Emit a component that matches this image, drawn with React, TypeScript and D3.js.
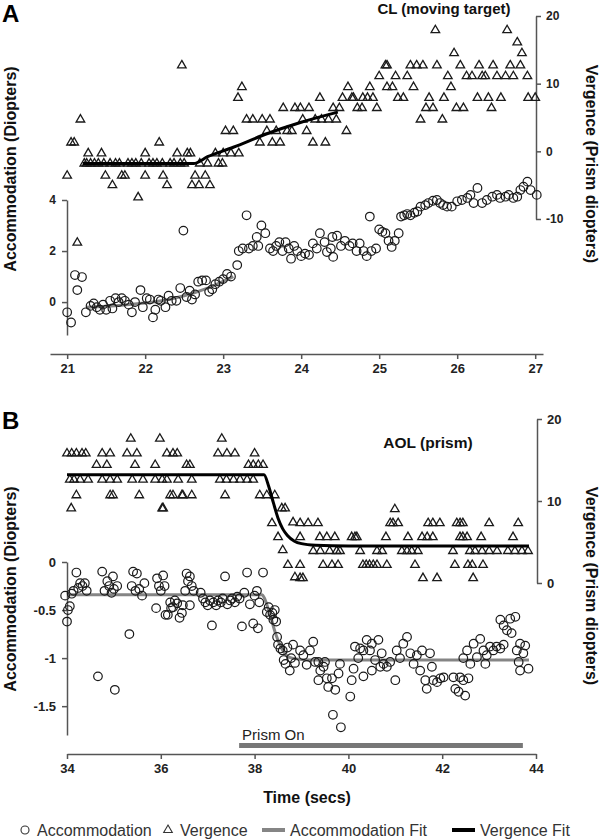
import React, { useRef, useEffect } from "react";
import * as d3 from "d3";

// ---- panel A: CL (moving target) ----
const clTimeTicks = [21, 22, 23, 24, 25, 26, 27];
const clAccomTicks = [0, 2, 4];
const clVergTicks = [-10, 0, 10, 20];

// [time (s), vergence (prism diopters)]
const clVergence: [number, number][] = [
  [21.0, -3.6], [21.05, 1.3], [21.09, 1.3], [21.13, -13.5], [21.17, 4.7],
  [21.22, -1.8], [21.25, -1.8], [21.27, -0.3], [21.3, -1.8], [21.35, -1.8], [21.4, -1.8],
  [21.44, -0.3], [21.47, -1.8], [21.49, -3.6], [21.55, -1.8], [21.58, -5.0], [21.62, -1.8],
  [21.67, -1.8], [21.7, -3.6], [21.74, -3.6], [21.78, -1.8], [21.83, -1.8], [21.88, -1.8],
  [21.91, -6.8], [21.95, -1.8], [22.0, -0.3], [22.0, -3.6], [22.05, -1.8], [22.1, -1.8],
  [22.15, -1.8], [22.18, 1.3], [22.22, -1.8], [22.23, -3.6], [22.28, -5.0], [22.32, -1.8],
  [22.37, -1.8], [22.41, -0.3], [22.45, -1.8], [22.47, 12.7], [22.5, -1.8], [22.54, -0.3],
  [22.58, -0.3], [22.6, -5.0], [22.64, -3.6], [22.69, -5.0], [22.7, -1.8], [22.77, -3.6],
  [22.8, -1.8], [22.83, -5.0], [22.9, -0.3], [22.94, -1.8], [22.99, -1.8], [23.0, -0.3],
  [23.03, 3.0], [23.1, -0.3], [23.13, 3.0], [23.19, 7.9], [23.2, -0.3], [23.24, 9.5],
  [23.3, 4.7], [23.38, 4.7], [23.47, 1.3], [23.5, 4.7], [23.56, 3.0], [23.6, 4.7],
  [23.63, 1.3], [23.68, 3.0], [23.73, 1.3], [23.77, 6.4], [23.82, 3.0], [23.88, 3.0],
  [23.92, 6.4], [23.99, 6.4], [24.02, 4.7], [24.07, 3.0], [24.1, 6.4], [24.15, 1.3],
  [24.18, 4.7], [24.24, 7.9], [24.26, 4.7], [24.31, 1.3], [24.35, 4.7], [24.41, 6.4],
  [24.45, 4.7], [24.49, 6.4], [24.53, 7.9], [24.58, 3.0], [24.6, 9.5], [24.65, 7.9],
  [24.67, 7.9], [24.72, 6.4], [24.78, 6.4], [24.79, 7.9], [24.85, 7.9], [24.88, 9.5],
  [24.92, 7.9], [24.97, 6.4], [25.0, 11.1], [25.08, 12.7], [25.1, 12.7], [25.1, 9.5],
  [25.17, 9.5], [25.21, 11.1], [25.24, 7.9], [25.31, 7.9], [25.36, 11.1], [25.4, 12.7],
  [25.44, 9.5], [25.48, 12.7], [25.53, 4.7], [25.56, 12.7], [25.6, 6.4], [25.64, 7.9],
  [25.69, 6.4], [25.72, 17.9], [25.74, 12.7], [25.81, 4.7], [25.83, 7.9], [25.88, 11.1],
  [25.92, 9.5], [25.96, 14.5], [25.99, 6.4], [26.04, 12.7], [26.08, 6.4], [26.12, 11.1],
  [26.19, 11.1], [26.26, 7.9], [26.28, 12.7], [26.32, 11.1], [26.36, 11.1], [26.4, 7.9],
  [26.44, 6.4], [26.46, 12.7], [26.51, 11.1], [26.56, 7.9], [26.62, 11.1], [26.64, 17.9],
  [26.68, 12.7], [26.72, 11.1], [26.77, 16.1], [26.81, 12.7], [26.83, 14.5], [26.9, 11.1],
  [26.91, 7.9], [27.0, 7.9],
];

// [time (s), accommodation (D)]
const clAccom: [number, number][] = [
  [21.0, -0.4], [21.05, -0.8], [21.1, 1.06], [21.13, 0.47], [21.19, 0.98], [21.24, -0.4],
  [21.3, -0.15], [21.34, -0.05], [21.38, -0.2], [21.42, -0.3], [21.46, -0.1], [21.5, -0.3],
  [21.55, 0.05], [21.58, -0.25], [21.62, 0.15], [21.66, 0.0], [21.7, 0.15], [21.74, 0.05],
  [21.79, -0.1], [21.83, -0.4], [21.87, 0.0], [21.94, 0.47], [21.97, -0.2], [22.02, 0.15],
  [22.06, 0.1], [22.1, -0.6], [22.13, -0.3], [22.17, 0.1], [22.2, 0.05], [22.26, -0.2],
  [22.3, 0.25], [22.34, 0.05], [22.4, 0.05], [22.45, 0.55], [22.49, 2.8], [22.53, 0.2],
  [22.57, 0.45], [22.6, 0.1], [22.64, 0.3], [22.68, 0.8], [22.73, 0.85], [22.78, 0.85],
  [22.82, 0.4], [22.86, 0.5], [22.9, 0.7], [22.95, 0.8], [23.0, 0.9], [23.05, 1.1],
  [23.1, 1.0], [23.18, 1.45], [23.2, 2.0], [23.25, 2.1], [23.3, 3.4], [23.33, 2.1],
  [23.38, 2.2], [23.43, 2.55], [23.45, 2.2], [23.49, 3.0], [23.54, 2.7], [23.6, 2.1],
  [23.64, 2.0], [23.68, 2.2], [23.72, 2.35], [23.76, 2.0], [23.8, 2.35], [23.84, 2.1],
  [23.87, 1.7], [23.91, 2.2], [23.95, 2.0], [24.0, 1.8], [24.05, 1.9], [24.1, 1.85],
  [24.15, 2.3], [24.2, 2.1], [24.24, 2.7], [24.3, 2.35], [24.33, 1.96], [24.38, 2.1],
  [24.41, 1.77], [24.4, 2.55], [24.46, 2.6], [24.51, 2.2], [24.56, 2.4], [24.62, 2.2],
  [24.66, 2.3], [24.71, 2.0], [24.75, 2.3], [24.8, 2.0], [24.84, 1.8], [24.88, 3.35],
  [24.9, 2.0], [24.96, 2.1], [25.0, 2.85], [25.04, 2.75], [25.08, 2.7], [25.12, 2.4],
  [25.16, 2.16], [25.2, 2.4], [25.25, 2.7], [25.28, 3.35], [25.32, 3.4], [25.36, 3.45],
  [25.4, 3.4], [25.45, 3.5], [25.49, 3.55], [25.53, 3.74], [25.59, 3.8], [25.63, 3.88],
  [25.69, 3.97], [25.74, 4.0], [25.78, 3.88], [25.82, 3.8], [25.87, 3.74], [25.93, 3.74],
  [26.0, 3.95], [26.06, 4.0], [26.13, 4.08], [26.17, 4.2], [26.21, 3.88], [26.26, 4.47],
  [26.32, 3.88], [26.38, 4.0], [26.45, 4.13], [26.51, 4.2], [26.55, 4.08], [26.62, 4.13],
  [26.66, 4.2], [26.72, 4.08], [26.77, 4.13], [26.81, 4.39], [26.85, 4.52], [26.9, 4.72],
  [26.94, 4.39], [27.02, 4.2],
];

const clVergFit: [number, number][] = [
  [21.2, -1.8], [22.62, -1.8], [22.8, -0.8], [23.13, 0.6], [23.56, 2.6], [24.0, 4.3], [24.47, 5.8],
];
const clAccomFit: [number, number][] = [
  [21.25, -0.2], [21.7, -0.12], [22.1, 0.0], [22.5, 0.25], [22.8, 0.55], [23.13, 1.0],
];

// ---- panel B: AOL (prism) ----
const aolTimeTicks = [34, 36, 38, 40, 42, 44];
const aolAccomTicks = [0, -0.5, -1, -1.5];
const aolVergTicks = [0, 10, 20];

const aolVergence: [number, number][] = [
  [34.0, 15.8], [34.06, 12.6], [34.09, 9.1], [34.1, 15.8], [34.15, 12.6], [34.2, 15.8],
  [34.2, 10.7], [34.28, 12.6], [34.32, 15.8], [34.4, 15.8], [34.45, 12.6], [34.63, 14.4],
  [34.75, 15.8], [34.75, 12.6], [34.85, 14.4], [34.92, 15.8], [34.92, 12.6], [34.92, 10.7],
  [34.98, 10.7], [35.07, 12.6], [35.28, 15.8], [35.36, 17.6], [35.39, 12.6], [35.45, 14.4],
  [35.49, 15.8], [35.54, 10.7], [35.62, 12.6], [35.88, 14.4], [35.88, 12.6], [35.98, 17.6],
  [36.03, 12.6], [36.03, 9.1], [36.05, 9.1], [36.13, 15.8], [36.13, 12.6], [36.2, 10.7],
  [36.26, 15.8], [36.26, 10.7], [36.35, 15.8], [36.37, 12.6], [36.45, 10.7], [36.47, 10.7],
  [36.55, 14.4], [36.62, 14.4], [36.66, 12.6], [36.66, 10.7], [37.22, 15.8], [37.26, 12.6],
  [37.3, 17.6], [37.37, 10.7], [37.4, 12.6], [37.41, 15.8], [37.55, 12.6], [37.58, 15.8],
  [37.69, 12.6], [37.84, 12.6], [37.87, 14.4], [37.97, 14.4], [37.97, 12.6], [38.0, 15.8],
  [38.08, 14.4], [38.11, 10.7], [38.18, 14.4], [38.26, 10.7], [38.37, 7.3], [38.43, 10.7],
  [38.5, 5.6], [38.58, 9.1], [38.6, 4.0], [38.65, 9.1], [38.71, 2.2], [38.82, 7.4],
  [38.86, 0.7], [38.97, 7.3], [38.97, 5.6], [38.97, 2.2], [38.97, 0.6], [39.03, 0.6],
  [39.14, 7.3], [39.25, 3.9], [39.35, 7.3], [39.39, 5.6], [39.4, 3.9], [39.46, 2.2],
  [39.54, 5.6], [39.6, 3.9], [39.65, 2.2], [39.71, 5.6], [39.75, 3.9], [39.78, 2.2],
  [39.82, 3.9], [40.07, 5.6], [40.14, 5.6], [40.18, 5.6], [40.25, 3.9], [40.31, 2.2],
  [40.38, 2.2], [40.45, 2.2], [40.53, 2.2], [40.61, 2.2], [40.61, 3.9], [40.72, 3.9],
  [40.8, 5.6], [40.82, 2.2], [40.89, 7.3], [40.95, 7.3], [40.99, 9.0], [41.06, 7.3],
  [41.14, 3.9], [41.25, 3.9], [41.27, 5.6], [41.35, 3.9], [41.42, 2.2], [41.48, 3.9],
  [41.57, 5.6], [41.59, 0.6], [41.68, 5.6], [41.7, 7.3], [41.8, 7.3], [41.8, 5.6],
  [41.89, 0.6], [41.95, 7.3], [42.23, 3.9], [42.27, 2.2], [42.31, 7.3], [42.38, 7.3],
  [42.38, 5.6], [42.44, 7.3], [42.44, 5.6], [42.53, 5.6], [42.55, 2.2], [42.59, 3.9],
  [42.64, 2.2], [42.66, 0.6], [42.7, 3.9], [42.83, 5.6], [42.85, 3.9], [42.87, 2.2],
  [43.0, 7.3], [43.0, 3.9], [43.17, 3.9], [43.4, 3.9], [43.51, 5.6], [43.55, 3.9],
  [43.62, 7.3], [43.7, 3.9], [43.83, 3.9],
];

const aolAccom: [number, number][] = [
  [33.96, -0.35], [34.0, -0.62], [34.02, -0.5], [34.06, -0.46], [34.1, -0.33], [34.14, -0.3],
  [34.2, -0.11], [34.24, -0.27], [34.28, -0.22], [34.33, -0.25], [34.38, -0.22], [34.42, -0.3],
  [34.66, -1.19], [34.75, -0.1], [34.8, -0.3], [34.86, -0.2], [34.9, -0.25], [34.95, -0.32],
  [34.98, -0.15], [35.0, -0.28], [35.02, -1.33], [35.07, -0.25], [35.33, -0.75], [35.38, -0.25],
  [35.41, -0.1], [35.46, -0.3], [35.49, -0.12], [35.54, -0.28], [35.6, -0.35], [35.65, -0.22],
  [35.9, -0.48], [35.92, -0.17], [35.96, -0.25], [36.0, -0.3], [36.05, -0.14], [36.08, -0.25],
  [36.1, -0.55], [36.15, -0.55], [36.2, -0.42], [36.22, -0.48], [36.26, -0.47], [36.3, -0.4],
  [36.35, -0.43], [36.4, -0.58], [36.45, -0.53], [36.47, -0.45], [36.52, -0.3], [36.55, -0.12],
  [36.58, -0.2], [36.62, -0.15], [36.62, -0.45], [36.66, -0.25], [36.7, -0.3], [36.85, -0.32],
  [36.9, -0.38], [36.95, -0.42], [37.0, -0.45], [37.05, -0.4], [37.09, -0.66], [37.12, -0.42],
  [37.18, -0.45], [37.22, -0.4], [37.28, -0.42], [37.32, -0.38], [37.37, -0.15], [37.42, -0.44],
  [37.48, -0.4], [37.52, -0.38], [37.58, -0.42], [37.63, -0.36], [37.68, -0.38], [37.73, -0.67],
  [37.78, -0.32], [37.84, -0.11], [37.9, -0.44], [37.97, -0.64], [38.0, -0.35], [38.05, -0.3],
  [38.07, -0.69], [38.1, -0.42], [38.18, -0.11], [38.26, -0.52], [38.3, -0.47], [38.33, -0.55],
  [38.38, -0.53], [38.4, -0.6], [38.43, -0.5], [38.46, -0.62], [38.48, -0.78], [38.5, -0.86],
  [38.55, -0.9], [38.6, -0.92], [38.62, -1.02], [38.66, -1.06], [38.7, -0.89], [38.75, -1.13],
  [38.78, -1.0], [38.82, -0.86], [38.86, -1.05],
  [38.97, -0.92], [39.04, -0.97], [39.11, -1.07], [39.18, -0.92], [39.25, -0.83], [39.29, -1.04],
  [39.36, -1.04], [39.4, -1.13], [39.47, -1.09], [39.5, -1.04], [39.54, -1.21], [39.36, -1.23],
  [39.57, -1.3], [39.65, -1.21], [39.72, -1.33], [39.79, -1.16], [39.82, -1.06], [39.67, -1.59],
  [39.84, -1.72], [40.04, -1.4], [40.07, -1.23], [40.11, -1.11], [40.14, -0.88], [40.21, -1.0],
  [40.25, -0.9], [40.32, -0.92], [40.39, -0.81], [40.46, -0.92], [40.5, -0.85], [40.32, -1.19],
  [40.5, -1.13], [40.57, -1.02], [40.64, -0.81], [40.68, -1.09], [40.71, -0.95], [40.75, -1.06],
  [40.82, -1.09], [40.89, -1.04], [41.0, -1.23], [41.03, -0.92], [41.1, -1.0], [41.17, -0.85],
  [41.25, -0.78], [41.32, -0.95], [41.39, -1.06], [41.46, -0.97], [41.53, -1.13], [41.57, -0.92],
  [41.64, -1.23], [41.67, -1.32], [41.74, -0.95], [41.78, -1.09], [41.81, -1.23], [41.89, -1.25],
  [41.96, -1.21], [42.03, -1.2], [42.24, -1.2], [42.28, -1.32], [42.35, -1.35], [42.38, -1.2],
  [42.45, -1.23], [42.49, -1.39], [42.56, -1.21], [42.45, -1.0], [42.53, -0.92], [42.6, -1.06],
  [42.67, -0.85], [42.74, -0.99], [42.81, -0.8], [42.88, -0.92], [42.92, -1.06], [42.95, -0.97],
  [43.02, -0.88], [43.09, -0.92], [43.16, -0.88], [43.24, -0.9], [43.31, -0.86], [43.24, -0.6],
  [43.31, -0.66], [43.38, -0.71], [43.48, -0.74], [43.56, -0.57], [43.45, -0.59], [43.59, -0.92],
  [43.66, -0.85], [43.73, -0.95], [43.77, -0.87], [43.63, -1.04], [43.66, -1.13], [43.84, -1.11],
];

const aolVergFit: [number, number][] = [
  [34.0, 13.2], [38.2, 13.2], [38.3, 11.8], [38.4, 9.8], [38.5, 7.9], [38.6, 6.6],
  [38.7, 5.8], [38.85, 5.1], [39.0, 4.8], [39.3, 4.6], [40.0, 4.5], [43.85, 4.5],
];
const aolAccomFit: [number, number][] = [
  [34.0, -0.34], [38.15, -0.34], [38.3, -0.5], [38.45, -0.75], [38.6, -0.92], [38.8, -1.0],
  [39.2, -1.02], [43.85, -1.02],
];
const prismOn = [37.67, 43.72];

const legendLabels = ["Accommodation", "Vergence", "Accommodation Fit", "Vergence Fit"];

const FONT = "Arial, 'Liberation Sans', Helvetica, sans-serif";

export default function App() {
  const svgRef = useRef<SVGSVGElement>(null);

  useEffect(() => {
    const svg = d3.select(svgRef.current);
    svg.selectAll("*").remove();
    svg.append("rect").attr("width", 600).attr("height", 840).attr("fill", "#fff");

    const tri = d3.symbol().type(d3.symbolTriangle).size(32);

    function drawPanel(p: any) {
      const g = svg.append("g");

      // axes
      const styleAxis = (sel: any, fs: number) => {
        sel.selectAll(".domain").attr("stroke", "#555").attr("stroke-width", 1.5);
        sel.selectAll(".tick line").attr("stroke", "#555").attr("stroke-width", 1.5);
        sel.selectAll("text")
          .attr("fill", "#222")
          .attr("font-size", fs)
          .attr("font-weight", "bold")
          .attr("font-family", FONT);
      };

      g.append("g")
        .attr("transform", `translate(0,${p.xAxisY})`)
        .call(d3.axisBottom(p.x).tickValues(p.xTicks).tickSize(5).tickSizeOuter(0).tickPadding(5).tickFormat((d: any) => String(d)))
        .call((s: any) => styleAxis(s, p.xFont));

      g.append("g")
        .attr("transform", `translate(${p.leftX},0)`)
        .call(d3.axisLeft(p.yA).tickValues(p.aTicks).tickSize(5).tickSizeOuter(0).tickPadding(6).tickFormat((d: any) => String(d)))
        .call((s: any) => styleAxis(s, p.yFont));

      g.append("g")
        .attr("transform", `translate(${p.rightX},0)`)
        .call(d3.axisRight(p.yV).tickValues(p.vTicks).tickSize(5).tickSizeOuter(0).tickPadding(5).tickFormat((d: any) => String(d)))
        .call((s: any) => styleAxis(s, p.yFont));

      const line = d3
        .line<[number, number]>()
        .curve(d3.curveMonotoneX);

      // triangles (vergence)
      g.append("g")
        .selectAll("path")
        .data(p.verg)
        .join("path")
        .attr("d", tri as any)
        .attr("transform", (d: any) => `translate(${p.x(d[0])},${p.yV(d[1])})`)
        .attr("fill", "none")
        .attr("stroke", "#1a1a1a")
        .attr("stroke-width", 1.3);

      // accommodation fit
      g.append("path")
        .datum(p.accomFit)
        .attr("fill", "none")
        .attr("stroke", "#858585")
        .attr("stroke-width", 3)
        .attr("d", line.x((d) => p.x(d[0])).y((d) => p.yA(d[1])) as any);

      // circles (accommodation)
      g.append("g")
        .selectAll("circle")
        .data(p.accom)
        .join("circle")
        .attr("cx", (d: any) => p.x(d[0]))
        .attr("cy", (d: any) => p.yA(d[1]))
        .attr("r", 4.3)
        .attr("fill", "none")
        .attr("stroke", "#1a1a1a")
        .attr("stroke-width", 1.2);

      // vergence fit
      g.append("path")
        .datum(p.vergFit)
        .attr("fill", "none")
        .attr("stroke", "#000")
        .attr("stroke-width", 3)
        .attr("d", line.x((d) => p.x(d[0])).y((d) => p.yV(d[1])) as any);

      // title + panel letter
      g.append("text")
        .attr("x", p.titleX)
        .attr("y", p.titleY)
        .attr("text-anchor", "middle")
        .attr("font-family", FONT)
        .attr("font-weight", "bold")
        .attr("font-size", p.titleFont)
        .attr("fill", "#111")
        .text(p.title);
      g.append("text")
        .attr("x", 2)
        .attr("y", p.letterY)
        .attr("font-family", FONT)
        .attr("font-weight", "bold")
        .attr("font-size", 24)
        .attr("fill", "#000")
        .text(p.letter);

      // axis titles
      g.append("text")
        .attr("transform", `translate(10,${p.leftLabelY}) rotate(-90)`)
        .attr("text-anchor", "middle")
        .attr("dominant-baseline", "central")
        .attr("font-family", FONT)
        .attr("font-weight", "bold")
        .attr("font-size", 16)
        .attr("fill", "#111")
        .text("Accommodation (Diopters)");
      g.append("text")
        .attr("transform", `translate(591,${p.rightLabelY}) rotate(90)`)
        .attr("text-anchor", "middle")
        .attr("dominant-baseline", "central")
        .attr("font-family", FONT)
        .attr("font-weight", "bold")
        .attr("font-size", 16)
        .attr("fill", "#111")
        .text("Vergence (Prism diopters)");
      return g;
    }

    // panel A
    drawPanel({
      x: d3.scaleLinear().domain([20.78, 27.1]).range([50, 543]),
      yA: d3.scaleLinear().domain([-1.29, 4]).range([335, 200]),
      yV: d3.scaleLinear().domain([-10, 20]).range([219, 16]),
      xTicks: clTimeTicks,
      aTicks: clAccomTicks,
      vTicks: clVergTicks,
      xAxisY: 354,
      leftX: 67,
      rightX: 536,
      xFont: 13,
      yFont: 12,
      verg: clVergence,
      accom: clAccom,
      vergFit: clVergFit,
      accomFit: clAccomFit,
      title: "CL (moving target)",
      titleX: 444,
      titleY: 14,
      titleFont: 15,
      letter: "A",
      letterY: 22,
      leftLabelY: 169,
      rightLabelY: 164,
    });

    // panel B
    const xB = d3.scaleLinear().domain([34, 44]).range([67, 536]);
    const gB = drawPanel({
      x: xB,
      yA: d3.scaleLinear().domain([-1.8, 0]).range([735, 562]),
      yV: d3.scaleLinear().domain([0, 20]).range([583, 419]),
      xTicks: aolTimeTicks,
      aTicks: aolAccomTicks,
      vTicks: aolVergTicks,
      xAxisY: 754,
      leftX: 67,
      rightX: 537,
      xFont: 13,
      yFont: 13,
      verg: aolVergence,
      accom: aolAccom,
      vergFit: aolVergFit,
      accomFit: aolAccomFit,
      title: "AOL (prism)",
      titleX: 428,
      titleY: 448,
      titleFont: 15.5,
      letter: "B",
      letterY: 429,
      leftLabelY: 589,
      rightLabelY: 586,
    });

    // prism on bar
    gB.append("rect")
      .attr("x", xB(prismOn[0]))
      .attr("y", 743)
      .attr("width", xB(prismOn[1]) - xB(prismOn[0]))
      .attr("height", 5)
      .attr("fill", "#777");
    gB.append("text")
      .attr("x", xB(prismOn[0]) + 3)
      .attr("y", 740)
      .attr("font-family", FONT)
      .attr("font-size", 15)
      .attr("fill", "#222")
      .text("Prism On");

    svg.append("text")
      .attr("x", 307)
      .attr("y", 803)
      .attr("text-anchor", "middle")
      .attr("font-family", FONT)
      .attr("font-weight", "bold")
      .attr("font-size", 16)
      .attr("fill", "#111")
      .text("Time (secs)");

    // legend
    const lg = svg.append("g").attr("font-family", FONT).attr("font-size", 16).attr("fill", "#333");
    const ly = 830;
    lg.append("circle").attr("cx", 25).attr("cy", ly).attr("r", 4).attr("fill", "none").attr("stroke", "#333").attr("stroke-width", 1.1);
    lg.append("text").attr("x", 37).attr("y", ly + 5.5).text(legendLabels[0]);
    lg.append("path").attr("d", tri as any).attr("transform", `translate(168,${ly})`).attr("fill", "none").attr("stroke", "#333").attr("stroke-width", 1.1);
    lg.append("text").attr("x", 180).attr("y", ly + 5.5).text(legendLabels[1]);
    lg.append("line").attr("x1", 262).attr("x2", 285).attr("y1", ly).attr("y2", ly).attr("stroke", "#858585").attr("stroke-width", 4);
    lg.append("text").attr("x", 290).attr("y", ly + 5.5).text(legendLabels[2]);
    lg.append("line").attr("x1", 452).attr("x2", 475).attr("y1", ly).attr("y2", ly).attr("stroke", "#000").attr("stroke-width", 4);
    lg.append("text").attr("x", 480).attr("y", ly + 5.5).text(legendLabels[3]);
  }, []);

  return (
    <div style={{ position: "absolute", left: 0, top: 0 }}>
      <svg ref={svgRef} width={600} height={840} />
    </div>
  );
}
